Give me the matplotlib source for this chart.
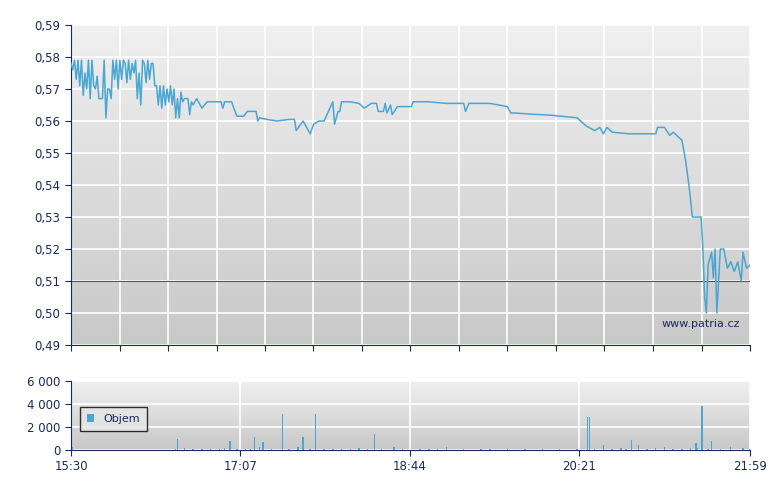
import matplotlib
matplotlib.use("Agg")
import matplotlib.pyplot as plt
import numpy as np
from matplotlib.ticker import FuncFormatter, FixedLocator
from matplotlib.colors import LinearSegmentedColormap

# minutes after 15:30
p_early = [0.578,0.576,0.579,0.573,0.579,0.571,0.579,0.568,0.575,0.570,0.579,0.567,0.579,0.571,0.570,0.574,
           0.567,0.567,0.567,0.579,0.561,0.570,0.570,0.567,0.579,0.573,0.579,0.570,0.579,0.573,0.579,0.578,
           0.572,0.579,0.573,0.578,0.575,0.579,0.567,0.575,0.565,0.579,0.578,0.572,0.579,0.573,0.578,0.578,
           0.571,0.571,0.565,0.571,
           0.564,0.571,0.565,0.570,0.566,0.571,0.565,0.570,0.561,0.567,0.561,0.569,0.566,0.567,0.567,0.567,
           0.562,0.566,0.565]
t_early = list(range(len(p_early)))
t_late = [72,75,78,82,86,87,88,92,95,99,101,106,107,108,112,118,125,128,129,133,137,139,142,145,150,151,153,
          154,155,160,165,168,172,175,176,179,180,181,183,184,187,195,196,205,215,225,226,228,240,250,252,254,
          262,275,290,295,300,303,305,307,310,320,335,336,340,343,345,348,350,352,354,356,361,362,363,364,365,
          367,368,369,370,372,374,376,378,380,382,384,385,387,389]
p_late = [0.567,0.564,0.566,0.566,0.566,0.564,0.566,0.566,0.5615,0.5615,0.563,0.563,0.560,0.561,0.5605,0.560,
          0.5605,0.5605,0.557,0.560,0.556,0.559,0.560,0.560,0.566,0.559,0.563,0.563,0.566,0.566,0.5655,0.564,
          0.5655,0.5655,0.563,0.563,0.5655,0.5625,0.565,0.562,0.5645,0.5645,0.566,0.566,0.5655,0.5655,0.563,
          0.5655,0.5655,0.5645,0.5625,0.5625,0.5622,0.5618,0.561,0.5585,0.557,0.558,0.556,0.558,0.5565,0.556,
          0.556,0.558,0.558,0.5555,0.5565,0.555,0.554,0.548,0.540,0.530,0.530,0.520,0.505,0.500,0.515,0.519,
          0.511,0.520,0.500,0.520,0.520,0.514,0.516,0.513,0.516,0.510,0.519,0.514,0.515]
times = t_early + t_late
prices = p_early + p_late

vol_t = [1,60,61,65,70,75,80,85,88,91,95,100,103,105,108,110,115,121,125,130,133,137,140,145,150,155,160,165,
         170,174,178,185,190,200,205,210,215,225,235,240,250,260,270,280,290,296,297,300,305,310,315,318,321,
         325,330,335,340,345,350,355,358,359,361.5,365,367,372,378,385,389]
vol_v = [300,100,1000,150,100,120,100,100,150,800,100,120,100,1100,300,700,100,3100,100,300,1150,100,3100,100,
         100,100,100,200,120,1400,100,300,100,100,100,100,300,100,100,100,100,100,100,100,100,2900,2900,100,400,
         100,150,100,900,450,100,150,300,100,120,200,600,150,3800,100,800,100,300,150,100]
time_labels = ["15:30", "17:07", "18:44", "20:21", "21:59"]
time_ticks = [0, 97, 194, 291, 389]

navy = "#1a2a5a"
line_c = "#4aa6d2"
fig = plt.figure(figsize=(7.8, 4.9), dpi=100)
ax = fig.add_axes([71/780, 145/490, 679/780, 320/490])
axv = fig.add_axes([71/780, 40/490, 679/780, 69/490])

grad = np.linspace(0, 1, 256).reshape(-1, 1)
cmap = LinearSegmentedColormap.from_list("g", ["#f0f0f0", "#c8c8c8"])
for a in (ax, axv):
    a.imshow(grad, aspect="auto", cmap=cmap, extent=[0, 1, 0, 1], transform=a.transAxes, zorder=0)
    a.set_xlim(0, 389)
    a.grid(True, color="white", lw=1.2, zorder=1)
    for s in ("top", "right"):
        a.spines[s].set_visible(False)
    for s in ("left", "bottom"):
        a.spines[s].set_color(navy)
    a.tick_params(colors=navy, labelsize=8.5, length=4, color=navy)

ax.plot(times, prices, color=line_c, lw=1.1, zorder=3)
ax.axhline(0.51, color="#555555", lw=0.8, zorder=2)
ax.set_ylim(0.49, 0.59)
ax.set_xlim(0, 389)
ax.yaxis.set_major_locator(FixedLocator(np.arange(0.49, 0.5901, 0.01)))
ax.yaxis.set_major_formatter(FuncFormatter(lambda v, p: f"{v:.2f}".replace(".", ",")))
ax.xaxis.set_major_locator(FixedLocator(np.linspace(0, 389, 15)))
ax.set_xticklabels([])
ax.text(0.985, 0.05, "www.patria.cz", transform=ax.transAxes, ha="right", va="bottom", fontsize=8, color=navy, zorder=4)

axv.bar(vol_t, vol_v, width=0.8, color=line_c, zorder=3, label="Objem")
axv.set_ylim(0, 6000)
axv.set_xlim(0, 389)
axv.yaxis.set_major_locator(FixedLocator([0, 2000, 4000, 6000]))
axv.yaxis.set_major_formatter(FuncFormatter(lambda v, p: f"{int(v):,}".replace(",", " ")))
axv.set_xticks(time_ticks)
axv.set_xticklabels(time_labels)
leg = axv.legend(loc="center left", bbox_to_anchor=(0.005, 0.45), fontsize=8, frameon=True, fancybox=False,
                 handlelength=0.7, handleheight=0.7, borderpad=0.6, labelcolor=navy)
leg.get_frame().set_edgecolor("black")
leg.get_frame().set_facecolor("#e6e6e6")

fig.savefig("out.png", dpi=100)
